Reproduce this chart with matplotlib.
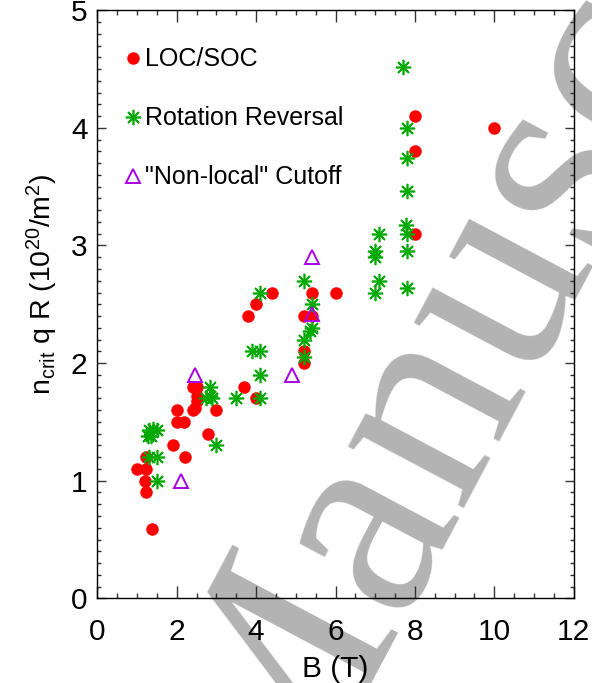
import matplotlib
matplotlib.use("Agg")
import matplotlib.pyplot as plt
from matplotlib.ticker import MultipleLocator

plt.rcParams['font.family'] = ['Liberation Sans', 'DejaVu Sans']
plt.rcParams['mathtext.fontset'] = 'custom'
plt.rcParams['mathtext.rm'] = 'Liberation Sans'
plt.rcParams['mathtext.it'] = 'Liberation Sans'

# LOC/SOC
loc_B = [1.0, 1.22, 1.22, 1.2, 1.22, 1.38, 1.9, 2.0, 2.0, 2.18, 2.2, 2.4, 2.5, 2.5, 2.5,
         2.4, 2.45, 2.8, 3.0, 3.7, 4.0, 3.8, 4.0, 4.4, 5.2, 5.2, 5.2, 5.4, 5.4, 6.0,
         8.0, 8.0, 8.0, 10.0]
loc_n = [1.1, 1.1, 1.2, 1.0, 0.9, 0.59, 1.3, 1.6, 1.5, 1.5, 1.2, 1.8, 1.8, 1.72, 1.68,
         1.6, 1.62, 1.4, 1.6, 1.8, 1.7, 2.4, 2.5, 2.6, 2.4, 2.1, 2.0, 2.4, 2.6, 2.6,
         3.1, 3.8, 4.1, 4.0]

# Rotation reversal
rot_B = [1.3, 1.35, 1.5, 1.28, 1.4, 1.3, 1.5, 1.5,
         2.85, 2.85, 2.75, 2.9, 3.0, 3.5, 3.9, 4.1, 4.1, 4.1, 4.1,
         5.2, 5.2, 5.2, 5.4, 5.4, 5.35,
         7.0, 7.1, 7.0, 7.0, 7.1,
         7.7, 7.8, 7.8, 7.8, 7.78, 7.8, 7.8, 7.8]
rot_n = [1.43, 1.38, 1.43, 1.38, 1.44, 1.2, 1.2, 1.0,
         1.8, 1.72, 1.7, 1.7, 1.3, 1.7, 2.1, 2.1, 1.9, 1.7, 2.6,
         2.7, 2.2, 2.05, 2.5, 2.3, 2.27,
         2.6, 2.7, 2.9, 2.95, 3.1,
         4.52, 4.0, 3.74, 3.46, 3.17, 3.1, 2.95, 2.64]

# "Non-local" cutoff
nl_B = [2.1, 2.45, 4.9, 5.4, 5.4]
nl_n = [1.0, 1.9, 1.9, 2.9, 2.42]

labels = ['LOC/SOC', 'Rotation Reversal', '"Non-local" Cutoff']
x_ticks = [0, 2, 4, 6, 8, 10, 12]
y_ticks = [0, 1, 2, 3, 4, 5]

RED = '#FF0000'
GREEN = '#00AA00'
PURPLE = '#A800E0'

fig = plt.figure(figsize=(5.92, 6.83), dpi=100)
ax = fig.add_axes([0.1644, 0.124, 0.8047, 0.861])
ax.patch.set_alpha(0)

# watermark (behind)
fig.text(0.4706, -0.2337, 'Manuscript', rotation=62, rotation_mode='anchor',
         ha='left', va='baseline', fontsize=206, color='#B3B3B3',
         family='Liberation Serif', zorder=-5)

ax.plot(loc_B, loc_n, 'o', ms=9, color=RED, mec=RED, mew=0, label=labels[0], zorder=3)
ax.plot(rot_B, rot_n, ls='none', marker=(8, 2, 0), ms=11, color=GREEN, mec=GREEN,
        mew=1.2, label=labels[1], zorder=3)
ax.plot(nl_B, nl_n, '^', ms=9.5, mfc='none', mec=PURPLE, mew=1.4, label=labels[2], zorder=3)

ax.set_xlim(0, 12)
ax.set_ylim(0, 5)
ax.set_xticks(x_ticks)
ax.set_yticks(y_ticks)
ax.xaxis.set_minor_locator(MultipleLocator(0.5))
ax.yaxis.set_minor_locator(MultipleLocator(0.1))
ax.tick_params(which='both', direction='in', top=True, right=True, width=1.0, color='#333333')
ax.tick_params(axis='x', which='major', length=8.5, labelsize=21.5, pad=14)
ax.tick_params(axis='x', which='minor', length=3.6)
ax.tick_params(axis='y', which='major', length=6.8, labelsize=21.5, pad=7)
ax.tick_params(axis='y', which='minor', length=2.8)
for s in ax.spines.values():
    s.set_linewidth(1.0)

ax.set_xlabel('B (T)', fontsize=21.5, labelpad=7)
ax.set_ylabel(r'n$_{\rm crit}$ q R (10$^{20}$/m$^2$)', fontsize=20.5)
ax.yaxis.set_label_coords(-0.078, 0.5345)

leg = ax.legend(loc='upper left', bbox_to_anchor=(0.0296, 0.958), frameon=False,
                fontsize=18, handlelength=0.7, handletextpad=0.15,
                labelspacing=1.4, borderpad=0, markerscale=1.0)

fig.savefig('out.png', dpi=100)
